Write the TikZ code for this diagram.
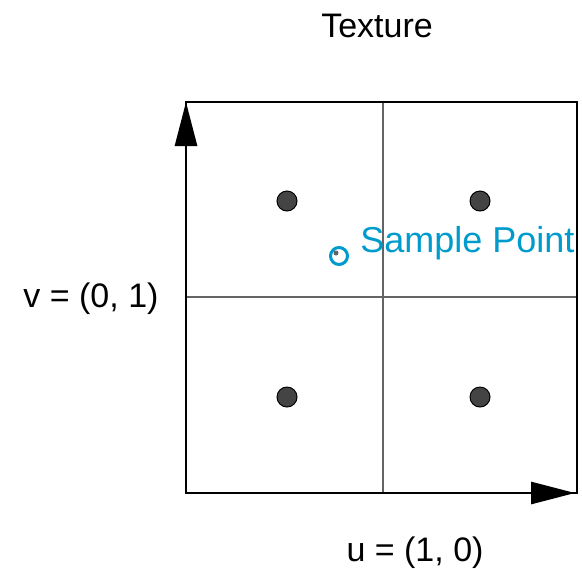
\documentclass[tikz,border=0pt]{standalone}
\usepackage{fontspec}
\setmainfont{Liberation Sans}
\usetikzlibrary{arrows.meta}
\definecolor{samplecol}{RGB}{0,155,205}
\definecolor{texelgray}{RGB}{68,68,68}
\definecolor{gridgray}{RGB}{100,100,100}
\begin{document}
\begin{tikzpicture}[x=.5pt, y=-.5pt, >={Triangle[length=22pt,width=11pt]}, font=\fontsize{17}{20}\selectfont,
    texel/.style={circle, fill=texelgray, draw=black, line width=.5pt, minimum size=10pt, inner sep=0pt}]
\useasboundingbox(0,0) rectangle (582,568);
\draw[gridgray, line width=.9pt](383,102)--(383,493);
\draw[gridgray, line width=.9pt](186,297)--(577,297);
\draw[line width=1pt](186,102) rectangle (577,493);
\coordinate (o) at (186,493);
\coordinate (vtip) at (186,102);
\coordinate (utip) at (575,493);
\draw[line width=1.4pt,->](o)--(vtip);
\draw[line width=1.4pt,->](o)--(utip);
\node[texel] (t01) at (287,201){};
\node[texel] (t11) at (480,201){};
\node[texel] (t00) at (287,397){};
\node[texel] (t10) at (480,397){};
\node[circle, draw=samplecol, line width=1.5pt, minimum size=8.5pt, inner sep=0pt] (sp) at (339,256){};
\node[circle, fill=gridgray, minimum size=2.5pt, inner sep=0pt] (spc) at (336,253){};
\node[anchor=base west, inner sep=0pt, text=samplecol, font=\fontsize{18}{21}\selectfont] (splabel) at (360,252){Sample Point};
\node[anchor=base] (title) at (377,37){Texture};
\node[anchor=base] (vlabel) at (91,307){v = (0, 1)};
\node[anchor=base] (ulabel) at (415,561){u = (1, 0)};
\end{tikzpicture}
\end{document}
